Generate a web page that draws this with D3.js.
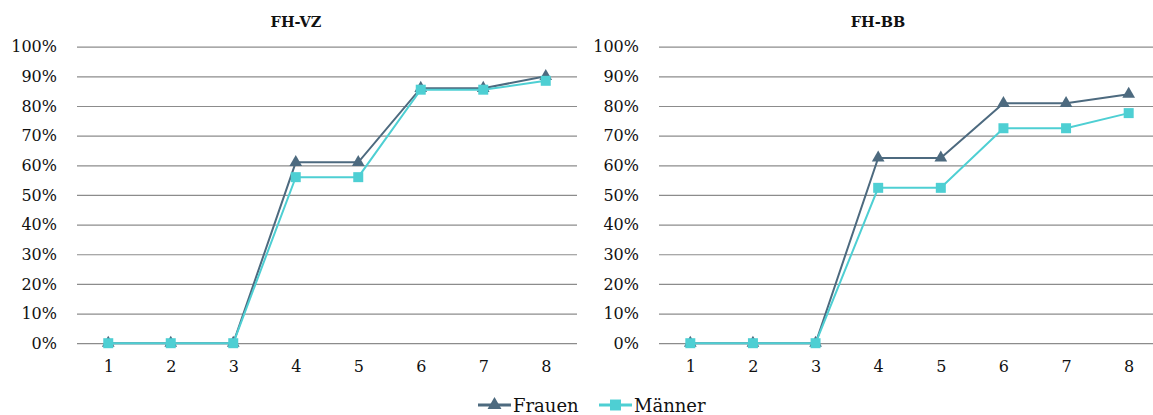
<!DOCTYPE html>
<html>
<head>
<meta charset="utf-8">
<script src="https://cdn.jsdelivr.net/npm/d3@7"></script>
<style>
  body { margin: 0; background: #fff; }
  svg { display: block; font-family: "DejaVu Serif", serif; }
</style>
</head>
<body>
<svg width="1153" height="415"></svg>
<script>
"use strict";

// Data
const semesters = [1, 2, 3, 4, 5, 6, 7, 8];
const yTicks = [0, 0.1, 0.2, 0.3, 0.4, 0.5, 0.6, 0.7, 0.8, 0.9, 1];
const seriesNames = ["Frauen", "Männer"];
const vzFrauen = [0, 0, 0, 0.61, 0.61, 0.86, 0.86, 0.90];
const vzMaenner = [0, 0, 0, 0.56, 0.56, 0.855, 0.855, 0.885];
const bbFrauen = [0, 0, 0, 0.625, 0.625, 0.809, 0.809, 0.84];
const bbMaenner = [0, 0, 0, 0.524, 0.524, 0.725, 0.725, 0.776];

const colors = { Frauen: "#4d6a7f", "Männer": "#4ecfd3" };
const symbols = { Frauen: d3.symbolTriangle, "Männer": d3.symbolSquare };
const symSize = { Frauen: 70, "Männer": 100 };

const panels = [
  { title: "FH-VZ", x0: 77, x1: 577, titleX: 296, data: { Frauen: vzFrauen, "Männer": vzMaenner } },
  { title: "FH-BB", x0: 659, x1: 1160, titleX: 878, data: { Frauen: bbFrauen, "Männer": bbMaenner } }
];

const svg = d3.select("svg");

const yScale = d3.scaleLinear()
  .domain([0, 1])
  .range([343.2, 46.7]);

panels.forEach(p => {
  const g = svg.append("g");

  const xScale = d3.scalePoint()
    .domain(semesters)
    .range([p.x0, p.x1])
    .padding(0.5);

  // Title
  g.append("text")
    .attr("x", p.titleX)
    .attr("y", 27)
    .attr("text-anchor", "middle")
    .attr("font-weight", "bold")
    .attr("font-size", 14.5)
    .attr("fill", "#111")
    .text(p.title);

  // Gridlines + y axis
  const yAxis = g.append("g")
    .attr("transform", `translate(${p.x0}, 0)`)
    .call(d3.axisLeft(yScale)
      .tickValues(yTicks)
      .tickSize(-(p.x1 - p.x0))
      .tickPadding(20)
      .tickFormat(d3.format(".0%")));
  yAxis.select(".domain").remove();
  yAxis.selectAll(".tick line")
    .attr("stroke", "#8c8c8c")
    .attr("stroke-width", 1.2);
  yAxis.selectAll(".tick text")
    .attr("font-size", 16)
    .attr("fill", "#111")
    .attr("font-family", "DejaVu Serif, serif");

  // x axis
  const xAxis = g.append("g")
    .attr("transform", `translate(0, ${yScale(0)})`)
    .call(d3.axisBottom(xScale).tickSize(0).tickPadding(17));
  xAxis.select(".domain").remove();
  xAxis.selectAll(".tick text")
    .attr("font-size", 16)
    .attr("fill", "#111")
    .attr("font-family", "DejaVu Serif, serif");

  // Lines and markers
  const line = d3.line()
    .x((d, i) => xScale(semesters[i]))
    .y(d => yScale(d));

  seriesNames.forEach(name => {
    const values = p.data[name];
    g.append("path")
      .attr("d", line(values))
      .attr("fill", "none")
      .attr("stroke", colors[name])
      .attr("stroke-width", 2);

    g.selectAll(null)
      .data(values)
      .join("path")
        .attr("transform", (d, i) => `translate(${xScale(semesters[i])}, ${yScale(d)})`)
        .attr("d", d3.symbol(symbols[name], symSize[name]))
        .attr("fill", colors[name]);
  });
});

// Legend
const legendItems = [
  { name: "Frauen", x: 478 },
  { name: "Männer", x: 599 }
];
const legend = svg.append("g").attr("transform", "translate(0, 405)");
legendItems.forEach(it => {
  legend.append("line")
    .attr("x1", it.x).attr("x2", it.x + 33)
    .attr("stroke", colors[it.name])
    .attr("stroke-width", 3);
  legend.append("path")
    .attr("transform", `translate(${it.x + 16.5}, 0)`)
    .attr("d", d3.symbol(symbols[it.name], symSize[it.name] * 1.2))
    .attr("fill", colors[it.name]);
  legend.append("text")
    .attr("x", it.x + 35)
    .attr("y", 6.5)
    .attr("font-size", 18)
    .attr("fill", "#111")
    .text(it.name);
});
</script>
</body>
</html>
